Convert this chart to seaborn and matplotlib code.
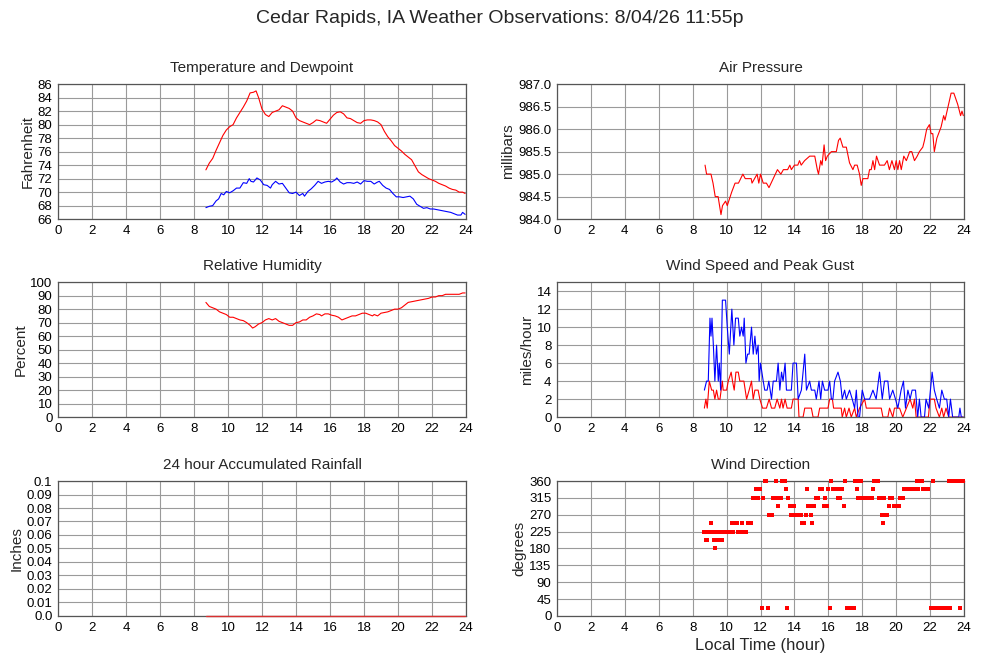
import numpy as np
import pandas as pd
import seaborn as sns
import matplotlib.pyplot as plt

# observations (hour of day, value)
temp_obs = [(8.7, 73.3), (8.9, 74.3), (9.1, 75.0), (9.3, 76.2), (9.5, 77.3), (9.7, 78.4),
            (9.9, 79.2), (10.1, 79.7), (10.3, 80.0), (10.5, 81.0), (10.7, 81.8), (10.9, 82.6),
            (11.1, 83.5), (11.3, 84.7), (11.5, 84.8), (11.65, 85.0), (11.8, 84.0), (12.0, 82.3),
            (12.2, 81.5), (12.4, 81.2), (12.6, 81.8), (12.8, 82.0), (13.0, 82.2), (13.2, 82.8),
            (13.4, 82.6), (13.6, 82.4), (13.8, 82.0), (14.0, 81.0), (14.2, 80.6), (14.4, 80.4),
            (14.6, 80.2), (14.8, 80.0), (15.0, 80.3), (15.2, 80.7), (15.4, 80.6), (15.6, 80.4),
            (15.8, 80.2), (16.0, 80.8), (16.2, 81.4), (16.4, 81.8), (16.6, 81.9), (16.8, 81.6),
            (17.0, 81.0), (17.2, 80.9), (17.4, 80.6), (17.6, 80.3), (17.8, 80.2), (18.0, 80.6),
            (18.2, 80.7), (18.4, 80.7), (18.6, 80.6), (18.8, 80.4), (19.0, 80.0), (19.2, 79.0),
            (19.4, 78.2), (19.6, 77.6), (19.8, 76.9), (20.0, 76.5), (20.2, 76.1), (20.4, 75.6),
            (20.6, 75.2), (20.8, 74.8), (21.0, 73.9), (21.2, 73.0), (21.4, 72.6), (21.6, 72.3),
            (21.8, 72.0), (22.0, 71.8), (22.2, 71.6), (22.4, 71.3), (22.6, 71.1), (22.8, 70.9),
            (23.0, 70.6), (23.2, 70.4), (23.4, 70.3), (23.6, 70.0), (23.8, 70.0), (23.95, 69.8)]

dew_obs = [(8.7, 67.7), (8.9, 67.9), (9.1, 68.0), (9.3, 68.7), (9.45, 69.0), (9.6, 69.8),
           (9.75, 69.6), (9.9, 70.1), (10.1, 69.9), (10.3, 70.2), (10.5, 70.6), (10.7, 70.6),
           (10.9, 71.4), (11.1, 71.3), (11.25, 72.0), (11.35, 71.6), (11.5, 71.5), (11.7, 72.1),
           (11.9, 71.8), (12.1, 71.1), (12.3, 71.0), (12.5, 70.6), (12.6, 71.1), (12.8, 71.6),
           (13.0, 71.2), (13.2, 71.3), (13.4, 70.6), (13.6, 69.9), (13.8, 69.8), (14.0, 70.0),
           (14.2, 69.5), (14.4, 69.8), (14.5, 69.4), (14.7, 70.1), (14.9, 70.5), (15.1, 71.0),
           (15.3, 71.6), (15.5, 71.3), (15.7, 71.5), (15.9, 71.6), (16.1, 71.5), (16.3, 71.8),
           (16.4, 72.1), (16.6, 71.5), (16.8, 71.2), (17.0, 71.4), (17.2, 71.4), (17.4, 71.3),
           (17.6, 71.5), (17.8, 71.2), (18.0, 71.7), (18.2, 71.6), (18.4, 71.6), (18.6, 71.2),
           (18.8, 71.5), (18.9, 71.6), (19.1, 71.0), (19.3, 70.6), (19.5, 70.4), (19.7, 69.8),
           (19.9, 69.3), (20.1, 69.3), (20.3, 69.2), (20.5, 69.3), (20.7, 69.4), (20.9, 69.0),
           (21.1, 68.2), (21.3, 67.9), (21.5, 67.6), (21.7, 67.7), (21.9, 67.5), (22.1, 67.5),
           (22.3, 67.4), (22.5, 67.3), (22.7, 67.2), (22.9, 67.1), (23.1, 67.0), (23.3, 66.8),
           (23.5, 66.6), (23.7, 66.6), (23.8, 67.0), (23.95, 66.7)]

pres_obs = [(8.73, 985.2), (8.82, 985.0), (9.08, 985.0), (9.2, 984.8), (9.33, 984.5), (9.5, 984.5),
            (9.67, 984.1), (9.76, 984.3), (9.94, 984.4), (10.04, 984.3), (10.3, 984.6), (10.5, 984.8),
            (10.7, 984.8), (10.96, 985.0), (11.1, 984.9), (11.45, 984.9), (11.5, 984.8), (11.8, 985.0),
            (11.9, 984.8), (12.0, 985.0), (12.16, 984.8), (12.35, 984.8), (12.5, 984.7), (12.75, 984.9),
            (13.0, 985.1), (13.2, 985.0), (13.35, 985.1), (13.6, 985.1), (13.73, 985.2), (13.82, 985.1),
            (14.0, 985.2), (14.2, 985.2), (14.3, 985.3), (14.4, 985.2), (14.6, 985.3), (14.9, 985.4),
            (15.2, 985.4), (15.35, 985.1), (15.42, 985.0), (15.55, 985.3), (15.63, 985.2), (15.75, 985.65),
            (15.84, 985.3), (15.94, 985.4), (16.18, 985.5), (16.47, 985.5), (16.6, 985.75), (16.7, 985.8),
            (16.86, 985.6), (17.06, 985.6), (17.25, 985.25), (17.45, 985.1), (17.55, 985.2), (17.7, 985.2),
            (17.84, 985.0), (17.94, 984.75), (18.04, 984.9), (18.33, 984.9), (18.43, 985.1), (18.53, 985.1),
            (18.63, 985.3), (18.73, 985.1), (18.84, 985.4), (19.02, 985.2), (19.31, 985.2), (19.47, 985.3),
            (19.6, 985.1), (19.75, 985.3), (19.9, 985.1), (20.0, 985.3), (20.1, 985.1), (20.2, 985.3),
            (20.3, 985.1), (20.45, 985.4), (20.6, 985.3), (20.8, 985.5), (20.92, 985.5), (21.08, 985.3),
            (21.24, 985.4), (21.37, 985.5), (21.57, 985.6), (21.67, 985.75), (21.8, 986.0), (21.96, 986.1),
            (22.06, 985.9), (22.16, 985.9), (22.25, 985.5), (22.4, 985.8), (22.65, 986.05), (22.8, 986.3),
            (22.88, 986.2), (23.24, 986.8), (23.4, 986.8), (23.63, 986.55), (23.8, 986.3), (23.88, 986.4),
            (23.96, 986.3)]

rh_obs = [(8.7, 85), (8.9, 82), (9.1, 81), (9.3, 80), (9.5, 78), (9.7, 77), (9.9, 76), (10.1, 74),
          (10.3, 74), (10.5, 73), (10.7, 72), (10.9, 71.5), (11.1, 70), (11.3, 68), (11.45, 66),
          (11.6, 67), (11.8, 69), (12.0, 70), (12.2, 72), (12.4, 73), (12.6, 72), (12.8, 73),
          (13.0, 71), (13.2, 70), (13.4, 69), (13.6, 68), (13.8, 68), (14.0, 70), (14.2, 70.5),
          (14.4, 72), (14.6, 72), (14.8, 74), (15.0, 75), (15.2, 76.5), (15.4, 76), (15.5, 75),
          (15.7, 76.5), (15.9, 76.5), (16.1, 75.5), (16.3, 75), (16.5, 74), (16.7, 72), (16.9, 73),
          (17.1, 74), (17.3, 75), (17.5, 75), (17.7, 76), (17.9, 77), (18.1, 77), (18.3, 76),
          (18.5, 75), (18.6, 76), (18.8, 75), (19.0, 77), (19.2, 77.5), (19.4, 78), (19.6, 79),
          (19.8, 80), (20.0, 80), (20.2, 81), (20.4, 83), (20.6, 85), (20.8, 85.5), (21.0, 86),
          (21.2, 86.5), (21.4, 87), (21.6, 87.5), (21.8, 88), (22.0, 89), (22.2, 89), (22.4, 90),
          (22.6, 90), (22.8, 91), (23.0, 91), (23.2, 91), (23.4, 91), (23.6, 91), (23.8, 92), (23.95, 92)]

gust_obs = [(8.69, 3), (8.82, 4), (8.92, 4), (9.02, 11), (9.08, 9), (9.14, 11), (9.22, 8), (9.31, 4),
            (9.41, 8), (9.51, 4), (9.57, 6), (9.65, 3), (9.75, 13), (9.94, 13), (10.04, 10), (10.16, 7),
            (10.31, 12), (10.43, 8), (10.53, 11), (10.69, 11), (10.78, 9), (10.88, 10), (10.98, 9),
            (11.04, 11), (11.14, 6), (11.24, 7), (11.33, 7), (11.47, 10), (11.57, 7), (11.67, 9),
            (11.76, 7), (11.86, 8), (11.92, 4), (12.0, 6), (12.16, 4), (12.25, 3), (12.39, 3),
            (12.49, 4), (12.65, 2), (12.75, 4), (12.94, 4), (13.04, 6), (13.14, 3), (13.24, 5),
            (13.33, 4), (13.45, 6), (13.53, 3), (13.63, 3), (13.82, 3), (13.92, 6), (14.12, 6),
            (14.22, 2), (14.41, 3), (14.61, 7), (14.71, 3), (14.9, 4), (15.0, 3), (15.2, 3),
            (15.29, 2), (15.45, 4), (15.55, 2), (15.65, 4), (15.78, 3), (15.98, 3), (16.08, 4),
            (16.18, 2), (16.27, 2), (16.37, 4), (16.57, 5), (16.71, 4), (16.82, 2), (16.96, 3),
            (17.06, 2), (17.25, 3), (17.41, 2), (17.55, 1), (17.65, 3), (17.75, 0), (17.84, 0),
            (18.0, 3), (18.14, 2), (18.27, 2), (18.43, 2), (18.63, 3), (18.82, 2), (19.02, 5),
            (19.18, 2), (19.31, 4), (19.51, 4), (19.61, 2), (19.8, 3), (19.96, 2), (20.1, 1),
            (20.29, 3), (20.43, 4), (20.55, 1), (20.69, 3), (20.82, 2), (20.94, 3), (21.14, 3),
            (21.27, 0), (21.37, 2), (21.47, 0), (21.67, 0), (21.76, 2), (21.92, 1), (22.12, 5),
            (22.25, 3), (22.39, 2), (22.55, 1), (22.69, 3), (22.84, 2), (22.98, 2), (23.1, 0),
            (23.2, 2), (23.33, 0), (23.53, 0), (23.69, 0), (23.76, 1), (23.84, 0), (23.96, 0)]

wspd_obs = [(8.69, 1), (8.78, 2), (8.86, 1), (8.98, 4), (9.12, 3), (9.22, 3), (9.31, 2), (9.41, 3),
            (9.51, 2), (9.61, 2), (9.75, 4), (9.8, 3), (10.0, 3), (10.1, 4), (10.27, 5), (10.35, 4),
            (10.45, 3), (10.55, 5), (10.69, 5), (10.78, 4), (11.02, 4), (11.18, 2), (11.33, 3),
            (11.47, 4), (11.57, 2), (11.67, 3), (11.86, 3), (11.96, 2), (12.12, 1), (12.35, 1),
            (12.51, 2), (12.65, 1), (12.84, 1), (12.98, 2), (13.14, 1), (13.24, 2), (13.33, 1),
            (13.45, 2), (13.57, 1), (13.82, 1), (13.92, 2), (14.22, 2), (14.27, 0), (14.51, 0),
            (14.61, 1), (15.0, 1), (15.1, 0), (15.39, 0), (15.49, 1), (15.98, 1), (16.08, 2),
            (16.24, 2), (16.31, 1), (16.76, 1), (16.82, 0), (16.96, 1), (17.06, 0), (17.22, 1),
            (17.35, 0), (17.55, 1), (17.65, 0), (17.84, 1), (18.14, 2), (18.24, 1), (19.12, 1),
            (19.22, 0), (19.51, 0), (19.61, 1), (19.8, 0), (19.9, 1), (20.2, 1), (20.39, 0),
            (20.82, 2), (20.98, 1), (21.08, 2), (21.18, 0), (21.9, 0), (22.0, 2), (22.25, 2),
            (22.35, 1), (22.55, 0), (22.69, 1), (22.8, 0), (22.94, 1), (23.1, 0), (23.96, 0)]

wdir_obs = [(8.67, 225), (8.72, 225), (8.78, 202.5), (8.83, 202.5), (8.9, 225), (8.95, 225),
            (9.0, 225), (9.06, 247.5), (9.12, 225), (9.17, 225), (9.25, 202.5), (9.33, 180),
            (9.41, 225), (9.5, 202.5), (9.55, 202.5), (9.6, 202.5), (9.65, 202.5), (9.75, 202.5),
            (9.7, 225), (9.8, 225), (9.85, 225), (9.9, 225), (9.95, 225), (10.0, 225), (10.05, 225),
            (10.1, 225), (10.15, 225), (10.3, 247.5), (10.35, 247.5), (10.4, 225), (10.45, 247.5),
            (10.5, 247.5), (10.55, 247.5), (10.62, 247.5), (10.7, 225), (10.75, 225), (10.8, 225),
            (10.9, 247.5), (10.95, 225), (11.0, 225), (11.05, 225), (11.1, 225), (11.15, 225),
            (11.25, 247.5), (11.3, 247.5), (11.35, 247.5), (11.4, 247.5), (11.45, 247.5),
            (11.58, 315), (11.63, 315), (11.68, 315), (11.73, 337.5), (11.78, 337.5), (11.86, 315),
            (11.9, 337.5), (11.95, 337.5), (12.06, 22.5), (12.16, 315), (12.25, 360), (12.3, 360),
            (12.35, 360), (12.42, 22.5), (12.5, 270), (12.55, 270), (12.6, 270), (12.65, 270),
            (12.75, 315), (12.8, 315), (12.85, 315), (12.92, 360), (13.06, 292.5), (13.1, 315),
            (13.2, 315), (13.28, 360), (13.33, 360), (13.38, 360), (13.43, 360), (13.49, 337.5),
            (13.57, 22.5), (13.65, 315), (13.73, 292.5), (13.82, 270), (13.87, 270), (13.92, 270),
            (13.96, 292.5), (14.02, 270), (14.07, 270), (14.12, 270), (14.17, 270), (14.22, 270),
            (14.27, 270), (14.32, 270), (14.37, 270), (14.47, 247.5), (14.52, 247.5), (14.57, 247.5),
            (14.67, 270), (14.75, 337.5), (14.82, 292.5), (14.87, 292.5), (14.92, 292.5), (14.96, 270),
            (15.06, 247.5), (15.14, 292.5), (15.25, 315), (15.3, 315), (15.35, 315), (15.42, 315),
            (15.5, 337.5), (15.55, 337.5), (15.62, 337.5), (15.72, 292.5), (15.77, 292.5),
            (15.82, 315), (15.87, 292.5), (15.92, 292.5), (15.98, 337.5), (16.08, 22.5), (16.18, 360),
            (16.25, 337.5), (16.3, 337.5), (16.35, 337.5), (16.4, 337.5), (16.45, 337.5), (16.5, 337.5),
            (16.57, 315), (16.62, 315), (16.67, 315), (16.75, 337.5), (16.8, 337.5), (16.9, 292.5),
            (17.0, 360), (17.08, 22.5), (17.13, 22.5), (17.18, 22.5), (17.23, 22.5), (17.28, 22.5),
            (17.33, 22.5), (17.38, 22.5), (17.43, 22.5), (17.5, 22.5), (17.58, 360), (17.67, 337.5),
            (17.75, 315), (17.83, 360), (17.88, 360), (17.93, 360), (18.0, 315), (18.05, 315),
            (18.1, 315), (18.15, 315), (18.2, 315), (18.25, 315), (18.3, 315), (18.35, 315),
            (18.4, 315), (18.45, 315), (18.5, 315), (18.55, 315), (18.65, 337.5), (18.72, 360),
            (18.77, 360), (18.82, 360), (18.87, 360), (18.92, 360), (18.98, 315), (19.03, 315),
            (19.08, 315), (19.15, 270), (19.23, 247.5), (19.3, 315), (19.38, 270), (19.43, 270),
            (19.48, 270), (19.55, 292.5), (19.65, 315), (19.7, 315), (19.75, 315), (19.85, 292.5),
            (19.9, 292.5), (19.95, 292.5), (20.0, 292.5), (20.05, 292.5), (20.1, 292.5), (20.15, 292.5),
            (20.22, 315), (20.27, 315), (20.32, 315), (20.38, 315), (20.45, 337.5), (20.5, 337.5),
            (20.55, 337.5), (20.6, 337.5), (20.65, 337.5), (20.7, 337.5), (20.75, 337.5), (20.8, 337.5),
            (20.85, 337.5), (20.9, 337.5), (20.95, 337.5), (21.0, 337.5), (21.05, 337.5), (21.1, 337.5),
            (21.15, 337.5), (21.2, 337.5), (21.3, 337.5), (21.25, 360), (21.35, 360), (21.4, 360),
            (21.45, 360), (21.5, 360), (21.55, 360), (21.6, 337.5), (21.65, 337.5), (21.7, 337.5),
            (21.75, 337.5), (21.8, 337.5), (21.85, 337.5), (22.05, 22.5), (22.1, 22.5), (22.2, 360),
            (22.15, 22.5), (22.25, 22.5), (22.3, 22.5), (22.35, 22.5), (22.4, 22.5), (22.45, 22.5),
            (22.5, 22.5), (22.55, 22.5), (22.6, 22.5), (22.65, 22.5), (22.7, 22.5), (22.75, 22.5),
            (22.8, 22.5), (22.85, 22.5), (22.9, 22.5), (22.95, 22.5), (23.0, 22.5), (23.05, 22.5),
            (23.1, 22.5), (23.15, 22.5), (23.2, 22.5), (23.1, 360), (23.3, 360), (23.35, 360),
            (23.4, 360), (23.45, 360), (23.5, 360), (23.55, 360), (23.6, 360), (23.65, 360),
            (23.75, 22.5), (23.8, 360), (23.85, 360), (23.9, 360), (23.95, 360)]

rain_obs = [(8.7, 0.0), (12.0, 0.0), (16.0, 0.0), (20.0, 0.0), (23.95, 0.0)]

hour_ticks = list(range(0, 25, 2))
temp_ticks = list(range(66, 87, 2))
pres_ticks = [984.0, 984.5, 985.0, 985.5, 986.0, 986.5, 987.0]
rh_ticks = list(range(0, 101, 10))
wind_ticks = list(range(0, 15, 2))
rain_ticks = [0.0, 0.01, 0.02, 0.03, 0.04, 0.05, 0.06, 0.07, 0.08, 0.09, 0.1]
rain_labels = ["0.0", "0.01", "0.02", "0.03", "0.04", "0.05", "0.06", "0.07", "0.08", "0.09", "0.1"]
dir_ticks = list(range(0, 361, 45))


def frame(obs, col):
    return pd.DataFrame(obs, columns=["hour", col])


sns.set_style("white")
plt.rcParams["font.family"] = ["Liberation Sans", "DejaVu Sans"]

fig = plt.figure(figsize=(10, 6.6), dpi=100)
W_L, W_R, H = 0.408, 0.407, 0.2045
ax_t = fig.add_axes([0.058, 0.668, W_L, H])
ax_p = fig.add_axes([0.557, 0.668, W_R, H])
ax_h = fig.add_axes([0.058, 0.368, W_L, H])
ax_w = fig.add_axes([0.557, 0.368, W_R, H])
ax_r = fig.add_axes([0.058, 0.0667, W_L, H])
ax_d = fig.add_axes([0.557, 0.0667, W_R, H])


def style(ax, title, ylabel, ticks, ylim, labels=None):
    ax.set_xlim(0, 24)
    ax.set_xticks(hour_ticks)
    ax.set_ylim(*ylim)
    ax.set_yticks(ticks)
    if labels is not None:
        ax.set_yticklabels(labels)
    ax.grid(True, color="#9a9a9a", linewidth=0.8)
    ax.set_axisbelow(True)
    ax.tick_params(length=0, labelsize=9.5, pad=4, colors="black")
    for s in ax.spines.values():
        s.set_color("#555555")
        s.set_linewidth(0.9)
    ax.set_title(title, fontsize=11, pad=9)
    ax.set_ylabel(ylabel, fontsize=11, labelpad=2)
    ax.set_xlabel("")


lw = 0.8
sns.lineplot(data=frame(temp_obs, "f"), x="hour", y="f", color="red", linewidth=lw,
             sort=False, estimator=None, ax=ax_t)
sns.lineplot(data=frame(dew_obs, "f"), x="hour", y="f", color="blue", linewidth=lw,
             sort=False, estimator=None, ax=ax_t)
style(ax_t, "Temperature and Dewpoint", "Fahrenheit", temp_ticks, (66, 86))

sns.lineplot(data=frame(pres_obs, "mb"), x="hour", y="mb", color="red", linewidth=lw,
             sort=False, estimator=None, ax=ax_p)
style(ax_p, "Air Pressure", "millibars", pres_ticks, (984, 987),
      [f"{v:.1f}" for v in pres_ticks])

sns.lineplot(data=frame(rh_obs, "pct"), x="hour", y="pct", color="red", linewidth=lw,
             sort=False, estimator=None, ax=ax_h)
style(ax_h, "Relative Humidity", "Percent", rh_ticks, (0, 100))

sns.lineplot(data=frame(wspd_obs, "mph"), x="hour", y="mph", color="red", linewidth=lw,
             sort=False, estimator=None, ax=ax_w)
sns.lineplot(data=frame(gust_obs, "mph"), x="hour", y="mph", color="blue", linewidth=lw,
             sort=False, estimator=None, ax=ax_w)
style(ax_w, "Wind Speed and Peak Gust", "miles/hour", wind_ticks, (0, 15))

sns.lineplot(data=frame(rain_obs, "inch"), x="hour", y="inch", color="#d83030", linewidth=1.0,
             sort=False, estimator=None, ax=ax_r, zorder=5, clip_on=False)
style(ax_r, "24 hour Accumulated Rainfall", "Inches", rain_ticks, (0, 0.1), rain_labels)

sns.scatterplot(data=frame(wdir_obs, "deg"), x="hour", y="deg", color="red", marker="s",
                s=5.5, linewidth=0, ax=ax_d, clip_on=False, zorder=3)
style(ax_d, "Wind Direction", "degrees", dir_ticks, (0, 360))
ax_d.set_xlabel("Local Time (hour)", fontsize=12, labelpad=3)

fig.suptitle("Cedar Rapids, IA Weather Observations: 8/04/26 11:55p", fontsize=14, y=0.985)

fig.savefig("out.png", dpi=100)
